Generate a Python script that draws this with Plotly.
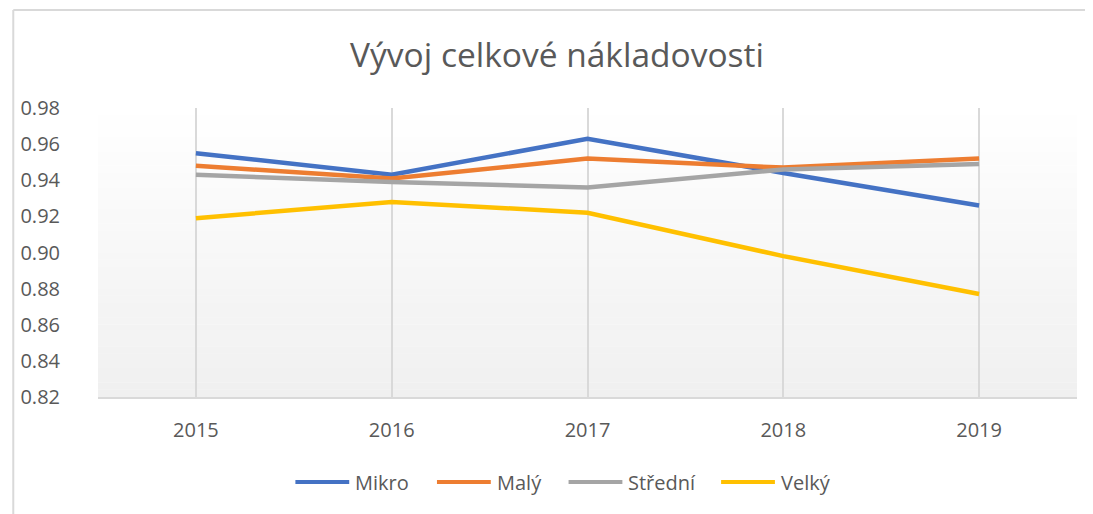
import plotly.graph_objects as go

years = ["2015", "2016", "2017", "2018", "2019"]
mikro = [0.955, 0.943, 0.963, 0.944, 0.926]
maly = [0.948, 0.941, 0.952, 0.947, 0.952]
stredni = [0.943, 0.939, 0.936, 0.946, 0.949]
velky = [0.919, 0.928, 0.922, 0.898, 0.877]
y_ticks = [0.82, 0.84, 0.86, 0.88, 0.90, 0.92, 0.94, 0.96, 0.98]

series = [("Mikro", mikro, "#4472C4"), ("Malý", maly, "#ED7D31"),
          ("Střední", stredni, "#A5A5A5"), ("Velký", velky, "#FFC000")]

# plot area in page pixels (for placing frame/legend decorations)
PL, PW, PB, PH = 95, 982, 397, 289
def px(xp):
    return (xp - PL) / PW
def py(yp):
    return (PB - yp) / PH

fig = go.Figure()
for name, vals, col in series:
    fig.add_trace(go.Scatter(x=years, y=vals, name=name, mode="lines",
                             line=dict(color=col, width=4.5), showlegend=False))

shapes = []
n = 40
for i in range(n):
    t = i / n
    c = int(round(255 - (255 - 240) * (1 - t)))
    shapes.append(dict(type="rect", xref="x domain", yref="y domain",
                       x0=0, x1=1, y0=t, y1=(i + 1) / n + 0.001,
                       fillcolor=f"rgb({c},{c},{c})", line=dict(width=0),
                       layer="below"))
# outer frame
shapes.append(dict(type="line", xref="paper", yref="paper", x0=px(10), x1=px(1100),
                   y0=py(10), y1=py(10), line=dict(color="#d9d9d9", width=2)))
shapes.append(dict(type="line", xref="paper", yref="paper", x0=px(10), x1=px(10),
                   y0=py(10), y1=py(520), line=dict(color="#d9d9d9", width=2)))

# manual legend
legend_line_starts = [293, 435, 567, 720]
annotations = []
for (name, _, col), x0 in zip(series, legend_line_starts):
    shapes.append(dict(type="line", xref="paper", yref="paper", x0=px(x0), x1=px(x0 + 54),
                       y0=py(482), y1=py(482), line=dict(color=col, width=4)))
    annotations.append(dict(text=name, xref="paper", yref="paper", x=px(x0 + 58), y=py(482),
                            xanchor="left", yanchor="middle", showarrow=False,
                            font=dict(size=20, color="#595959")))

font_family = "'Open Sans', Lato, sans-serif"
fig.update_layout(
    width=1085, height=506,
    margin=dict(l=87, r=16, t=100, b=117),
    paper_bgcolor="white", plot_bgcolor="rgba(0,0,0,0)",
    font=dict(family=font_family, color="#595959", size=20),
    title=dict(text="Vývoj celkové nákladovosti", x=0.506, xanchor="center",
               y=0.907, yanchor="middle", font=dict(size=33.5, color="#595959")),
    shapes=shapes,
    annotations=annotations,
    showlegend=False,
    xaxis=dict(type="category", range=[-0.5, 4.5], showgrid=True, gridcolor="#d9d9d9",
               gridwidth=1.5, showline=True, linecolor="#d9d9d9", linewidth=1.5,
               ticks="outside", ticklen=14, tickcolor="rgba(0,0,0,0)", zeroline=False),
    yaxis=dict(range=[0.82, 0.98], tickvals=y_ticks, tickformat=".2f", showgrid=False,
               zeroline=False, showline=False, ticks="outside", ticklen=33,
               tickcolor="rgba(0,0,0,0)"),
)
fig.write_html("out.html")
